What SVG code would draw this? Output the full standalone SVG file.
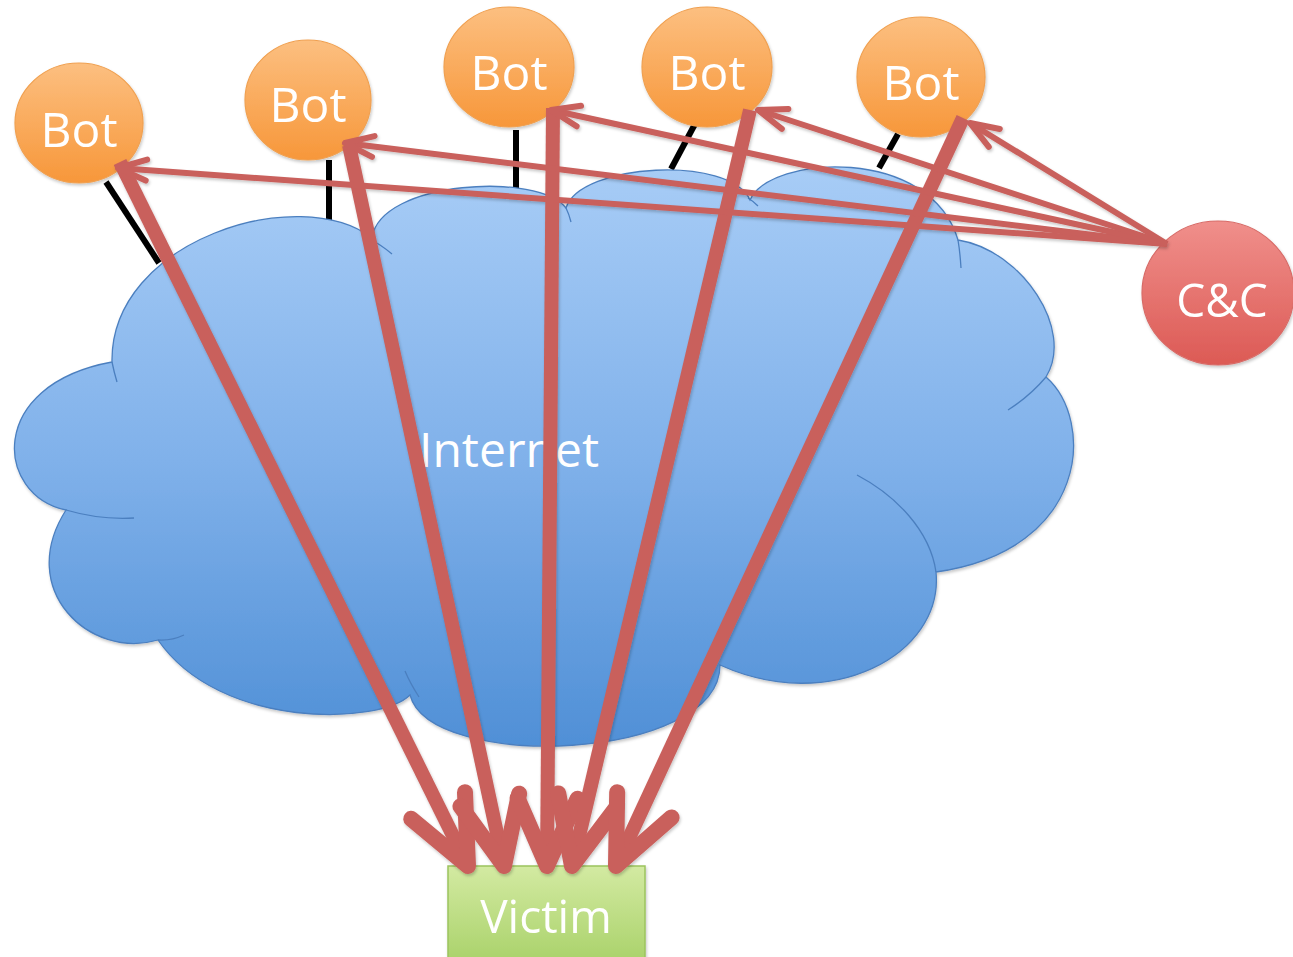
<svg xmlns="http://www.w3.org/2000/svg" width="1293" height="957" viewBox="0 0 1293 957">
  <defs>
    <linearGradient id="gCloud" gradientUnits="userSpaceOnUse" x1="0" y1="170" x2="0" y2="750">
      <stop offset="0" stop-color="#a7ccf6"/>
      <stop offset="0.5" stop-color="#80b1ea"/>
      <stop offset="1" stop-color="#4f8fd6"/>
    </linearGradient>
    <linearGradient id="gBot" x1="0" y1="0" x2="0" y2="1">
      <stop offset="0" stop-color="#fcbf80"/>
      <stop offset="1" stop-color="#f7973a"/>
    </linearGradient>
    <linearGradient id="gCC" x1="0" y1="0" x2="0" y2="1">
      <stop offset="0" stop-color="#f08f8b"/>
      <stop offset="1" stop-color="#dc5a55"/>
    </linearGradient>
    <linearGradient id="gVictim" x1="0" y1="0" x2="0" y2="1">
      <stop offset="0" stop-color="#d3eaa2"/>
      <stop offset="1" stop-color="#a8d168"/>
    </linearGradient>
    <filter id="sh" x="-20%" y="-20%" width="140%" height="140%">
      <feDropShadow dx="1" dy="2" stdDeviation="1.8" flood-color="#000" flood-opacity="0.22"/>
    </filter>
    <marker id="headBig" markerUnits="userSpaceOnUse" viewBox="-90 -50 100 100" refX="0" refY="0" markerWidth="100" markerHeight="100" orient="auto" overflow="visible">
      <path d="M-67.5,-30 L0,0 L-67.5,30" fill="none" stroke="#c9605c" stroke-width="16" stroke-linecap="round" stroke-linejoin="round"/>
    </marker>
    <marker id="headSmall" markerUnits="userSpaceOnUse" viewBox="-40 -20 50 40" refX="0" refY="0" markerWidth="50" markerHeight="40" orient="auto" overflow="visible">
      <path d="M-28.5,-10.5 L0,0 L-28.5,10.5" fill="none" stroke="#c9605c" stroke-width="6" stroke-linecap="round" stroke-linejoin="round"/>
    </marker>
    <style>
      .label { font-family: "Open Sans", "Liberation Sans", sans-serif; fill: #ffffff; text-anchor: middle; }
      .bot { fill: url(#gBot); stroke: #f0a050; stroke-width: 1.2; }
      .link { stroke: #000000; stroke-width: 6; fill: none; }
      .inner { fill: none; stroke: #4b7fbf; stroke-width: 1.3; }
      .attack { fill: none; stroke: #c9605c; stroke-width: 14; marker-end: url(#headBig); }
      .cmd { fill: none; stroke: #c9605c; stroke-width: 6; marker-end: url(#headSmall); }
    </style>
  </defs>

  <rect x="0" y="0" width="1293" height="957" fill="#ffffff"/>

  <!-- plain links from bots / victim to the internet -->
  <g id="links">
    <line class="link" x1="106" y1="182" x2="159" y2="263"/>
    <line class="link" x1="329" y1="160" x2="329" y2="224"/>
    <line class="link" x1="516" y1="130" x2="516" y2="199"/>
    <line class="link" x1="695" y1="124" x2="671" y2="169"/>
    <line class="link" x1="898" y1="134" x2="879" y2="168"/>
    <line class="link" x1="546" y1="745" x2="546" y2="866" stroke-width="4"/>
  </g>

  <!-- Internet cloud -->
  <g id="internet">
    <path filter="url(#sh)" fill="url(#gCloud)" stroke="#4b7fbf" stroke-width="1.3"
      d="M112,362 C110,240 300,182 372,238 C380,180 540,172 566,208 C580,163 730,155 750,200 C770,155 930,145 958,240 C1022,250 1075,330 1046,377 C1095,420 1090,550 936,572 C944,655 830,715 720,665 C720,762 430,772 410,695 C380,725 220,730 158,640 C90,660 15,590 66,510 C-5,495 -14,385 112,362 Z"/>
    <path class="inner" d="M112,362 Q114,372 117,382"/>
    <path class="inner" d="M368,238 Q380,244 392,254"/>
    <path class="inner" d="M566,208 Q569,214 571,222"/>
    <path class="inner" d="M748,198 Q753,201 758,206"/>
    <path class="inner" d="M958,240 Q960,252 961,268"/>
    <path class="inner" d="M1046,377 Q1030,396 1008,410"/>
    <path class="inner" d="M857,475 C895,495 930,530 936,572"/>
    <path class="inner" d="M405,671 Q410,683 419,697"/>
    <path class="inner" d="M158,640 Q171,641 184,635"/>
    <path class="inner" d="M66,510 Q100,520 134,518"/>
    <text class="label" x="509" y="467" font-size="48">Internet</text>
  </g>

  <!-- Bots -->
  <g id="bot1" filter="url(#sh)">
    <ellipse class="bot" cx="79" cy="123" rx="64" ry="60"/>
    <text class="label" x="79" y="147" font-size="48">Bot</text>
  </g>
  <g id="bot2" filter="url(#sh)">
    <ellipse class="bot" cx="308" cy="100" rx="63" ry="60"/>
    <text class="label" x="308" y="122" font-size="48">Bot</text>
  </g>
  <g id="bot3" filter="url(#sh)">
    <ellipse class="bot" cx="509" cy="67" rx="65" ry="60"/>
    <text class="label" x="509" y="90" font-size="48">Bot</text>
  </g>
  <g id="bot4" filter="url(#sh)">
    <ellipse class="bot" cx="707" cy="67" rx="65" ry="60"/>
    <text class="label" x="707" y="90" font-size="48">Bot</text>
  </g>
  <g id="bot5" filter="url(#sh)">
    <ellipse class="bot" cx="921" cy="77" rx="64" ry="60"/>
    <text class="label" x="921" y="100" font-size="48">Bot</text>
  </g>

  <!-- C&C -->
  <g id="cc" filter="url(#sh)">
    <ellipse cx="1218" cy="293" rx="76" ry="72" fill="url(#gCC)" stroke="#d86a66" stroke-width="1.2"/>
    <text class="label" x="1222" y="317" font-size="46">C&amp;C</text>
  </g>

  <!-- Victim -->
  <g id="victim" filter="url(#sh)">
    <rect x="448" y="866" width="197" height="100" fill="url(#gVictim)" stroke="#9cc35e" stroke-width="1.5"/>
    <text class="label" x="546" y="933" font-size="46">Victim</text>
  </g>

  <!-- Connectors -->
  <g id="connectors" filter="url(#sh)">
    <line class="attack" x1="120" y1="162" x2="468" y2="866"/>
    <line class="attack" x1="349" y1="145" x2="504" y2="866"/>
    <line class="attack" x1="553" y1="108" x2="547" y2="866"/>
    <line class="attack" x1="750" y1="110" x2="572" y2="866"/>
    <line class="attack" x1="963" y1="118" x2="616" y2="866"/>
    <line class="cmd" x1="1167" y1="244" x2="118" y2="168"/>
    <line class="cmd" x1="1167" y1="244" x2="345" y2="143"/>
    <line class="cmd" x1="1167" y1="244" x2="551" y2="110"/>
    <line class="cmd" x1="1167" y1="244" x2="758" y2="110"/>
    <line class="cmd" x1="1167" y1="244" x2="970" y2="123"/>
  </g>
</svg>
